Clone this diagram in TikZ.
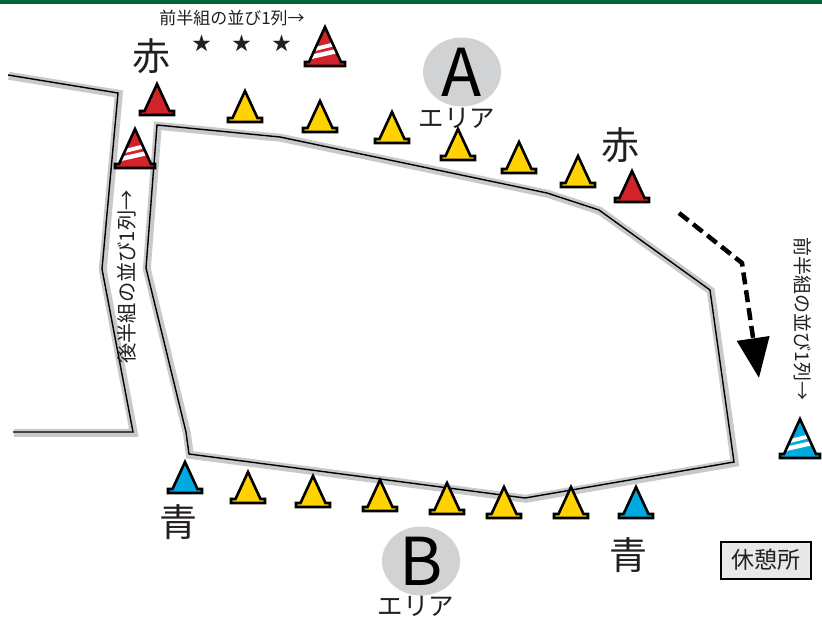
\documentclass[tikz,border=0pt]{standalone}
\usepackage{fontspec}
\setmainfont{Noto Sans CJK JP}
\usetikzlibrary{arrows.meta,shapes.geometric}
\definecolor{conered}{RGB}{210,35,42}
\definecolor{coneyellow}{RGB}{255,210,0}
\definecolor{coneblue}{RGB}{0,170,225}
\definecolor{trackgray}{RGB}{200,201,203}
\definecolor{areagray}{RGB}{209,210,212}
\definecolor{topgreen}{RGB}{0,102,56}
\definecolor{textgray}{RGB}{35,31,32}
\tikzset{
  pics/cone/.style={code={
    \draw[line width=2.6pt,fill=#1] (-17,0) -- (-17,-4) -- (-12.5,-4) -- (0,-31) -- (12.5,-4) -- (17,-4) -- (17,0) -- cycle;
  }},
  pics/stripecone/.style={code={
    \fill[#1] (-20,0) -- (-20,-4) -- (-16,-4) -- (0,-39) -- (16,-4) -- (20,-4) -- (20,0) -- cycle;
    \begin{scope}
      \clip (-16,-4) -- (0,-39) -- (16,-4) -- cycle;
      \fill[white] (-20,-5.5) -- (20,-14.5) -- (20,-19) -- (-20,-10) -- cycle;
      \fill[white] (-20,-12.5) -- (20,-22.5) -- (20,-26.5) -- (-20,-16.5) -- cycle;
    \end{scope}
    \draw[line width=2.6pt] (-20,0) -- (-20,-4) -- (-16,-4) -- (0,-39) -- (16,-4) -- (20,-4) -- (20,0) -- cycle;
  }},
  track/.style={draw=trackgray,line width=8pt},
  trackline/.style={draw=black,line width=1.4pt},
  kanji/.style={text=textgray,font=\fontsize{38}{38}\selectfont},
  rowtext/.style={text=textgray,inner sep=0pt},
  area/.style={ellipse,fill=areagray,minimum width=78pt,minimum height=69pt,inner sep=0pt,
    text=black,font=\fontsize{66}{66}\selectfont},
  areatext/.style={text=textgray,font=\fontsize{25.5}{25.5}\selectfont},
}
\begin{document}
\begin{tikzpicture}[x=1pt,y=-1pt]
  \useasboundingbox (0,0) rectangle (822,619);
  % green band on top
  \fill[topgreen] (0,0) rectangle (822,4);
  % the outer line
  \draw[track,shift={(0.8,0.8)}] (8,75) -- (118,93) -- (102,269) -- (133,432) -- (13,432);
  \draw[trackline] (8,75) -- (118,93) -- (102,269) -- (133,432) -- (13,432);
  % the course
  \draw[track,shift={(0.8,0.8)}] (157,125) -- (280,137) -- (547,193) -- (599,210) -- (710,290)
    -- (734,462) -- (525,498) -- (189,454) -- (186,432) -- (146,268) -- cycle;
  \draw[trackline] (157,125) -- (280,137) -- (547,193) -- (599,210) -- (710,290)
    -- (734,462) -- (525,498) -- (189,454) -- (186,432) -- (146,268) -- cycle;
  % the areas
  \node[area] (areaA) at (462,72) {A};
  \node[areatext] (areaAtext) at (457,118) {エリア};
  \node[area] (areaB) at (421,561) {B};
  \node[areatext] (areaBtext) at (416,606) {エリア};
  % the cones on top
  \pic at (157,115) {cone=conered};
  \foreach \cx/\cy in {245/122,320/132,392/143,458/160,519/173,578/187}
    \pic at (\cx,\cy) {cone=coneyellow};
  \pic at (632,202) {cone=conered};
  \pic at (325,66) {stripecone=conered};
  \pic at (135,168) {stripecone=conered};
  % the cones at the bottom
  \pic at (185,493) {cone=coneblue};
  \foreach \cx/\cy in {248/503,313/507,380/511,447/514,504/518,571/518}
    \pic at (\cx,\cy) {cone=coneyellow};
  \pic at (636,518) {cone=coneblue};
  \pic at (800,458) {stripecone=coneblue};
  % labels
  \node[kanji] (redleft) at (151,56) {赤};
  \node[kanji] (redright) at (620,145) {赤};
  \node[kanji] (blueleft) at (178,522) {青};
  \node[kanji] (blueright) at (628,555) {青};
  \node[rowtext,font=\fontsize{17}{17}\selectfont] (toprow) at (232,18) {前半組の並び1列→};
  \foreach \sx [count=\i] in {202,242,282}
    \node[text=textgray,font=\fontsize{19}{19}\selectfont] (star\i) at (\sx,43) {★};
  \node[rowtext,rotate=90,font=\fontsize{20.3}{20.3}\selectfont] (leftrow) at (127,277) {後半組の並び1列→};
  \node[rowtext,rotate=-90,font=\fontsize{19}{19}\selectfont] (rightrow) at (803,319) {前半組の並び1列→};
  % the rest area
  \node[draw,line width=2pt,fill=areagray!50,text=textgray,minimum width=90pt,minimum height=37pt,
    inner sep=2pt,font=\fontsize{23}{23}\selectfont] (rest) at (766,560) {休憩所};
  % dashed arrow
  \coordinate (arrstart) at (679,213);
  \coordinate (arrbend) at (742,263);
  \coordinate (arrtip) at (759,378);
  \draw[line width=4.5pt,dash pattern=on 12pt off 6pt,-{Triangle[width=32pt,length=40pt]}]
    (arrstart) -- (arrbend) -- (arrtip);
\end{tikzpicture}
\end{document}
